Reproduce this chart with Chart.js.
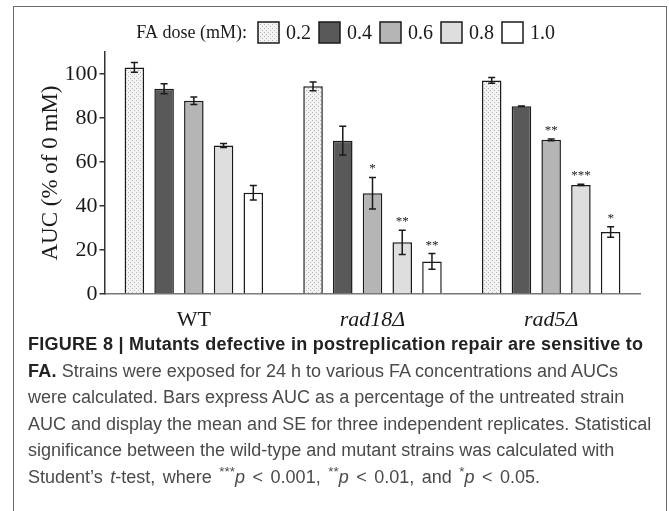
<!DOCTYPE html>
<html>
<head>
<meta charset="utf-8">
<script src="https://cdn.jsdelivr.net/npm/chart.js@4.4.0/dist/chart.umd.min.js"></script>
<style>
  html, body { margin: 0; padding: 0; background: #fff; }
  body { width: 669px; height: 511px; position: relative; overflow: hidden; }
  #frame { position: absolute; left: 13px; top: 6px; width: 654px; height: 520px;
           border: 1.5px solid #6b6b6b; box-sizing: border-box; }
  #wrap { position: absolute; left: 0; top: 0; width: 669px; height: 335px; }
  #caption { position: absolute; left: 28px; top: 331px; white-space: nowrap;
             font-family: "Liberation Sans", Arial, sans-serif; font-size: 18px;
             line-height: 26.6px; color: #4a4a4a; }
  #caption b { color: #222; letter-spacing: 0.27px; }
  #caption sup { font-size: 0.75em; line-height: 0; vertical-align: 0.5em; }
  #caption .last { word-spacing: 2.5px; }
</style>
</head>
<body>
<div id="frame"></div>
<div id="wrap"><canvas id="aucChart"></canvas></div>
<div id="caption">
  <b>FIGURE 8 | Mutants defective in postreplication repair are sensitive to</b><br>
  <b>FA.</b> Strains were exposed for 24 h to various FA concentrations and AUCs<br>
  were calculated. Bars express AUC as a percentage of the untreated strain<br>
  AUC and display the mean and SE for three independent replicates. Statistical<br>
  significance between the wild-type and mutant strains was calculated with<br>
  <span class="last">Student’s <i>t</i>-test, where <sup>***</sup><i>p</i> &lt; 0.001, <sup>**</sup><i>p</i> &lt; 0.01, and <sup>*</sup><i>p</i> &lt; 0.05.</span>
</div>
<script>
// ---------- Données ----------
const strains = ["WT", "rad18Δ", "rad5Δ"];
const doses = ["0.2", "0.4", "0.6", "0.8", "1.0"];
const yTicks = [0, 20, 40, 60, 80, 100];

// AUC moyenne (% de 0 mM), une valeur par souche
const auc02 = [103.0, 94.4, 97.1];
const auc04 = [93.3, 69.7, 85.3];
const auc06 = [87.8, 45.8, 70.1];
const auc08 = [67.5, 23.5, 49.6];
const auc10 = [46.0, 14.8, 28.2];

// erreur standard
const se02 = [2.2, 2.0, 1.3];
const se04 = [2.3, 6.5, 0.1];
const se06 = [1.7, 7.2, 0.4];
const se08 = [0.9, 5.5, 0.3];
const se10 = [3.3, 3.6, 2.4];

// significativité vs WT
const sig02 = ["", "", ""];
const sig04 = ["", "", ""];
const sig06 = ["", "*", "**"];
const sig08 = ["", "**", "***"];
const sig10 = ["", "**", "*"];

// ---------- Motif pointillé pour 0.2 mM ----------
function stipple() {
  const c = document.createElement("canvas");
  c.width = 4; c.height = 4;
  const g = c.getContext("2d");
  g.fillStyle = "#f3f3f3";
  g.fillRect(0, 0, 4, 4);
  g.fillStyle = "#b4b4b4";
  g.fillRect(0, 0, 1, 1);
  g.fillRect(2, 2, 1, 1);
  return g.createPattern(c, "repeat");
}

const serif = "'Liberation Serif', 'Times New Roman', serif";
const ink = "#1a1a1a";
const fills = [stipple(), "#595959", "#b5b5b5", "#dedede", "#ffffff"];
const means = [auc02, auc04, auc06, auc08, auc10];
const errs = [se02, se04, se06, se08, se10];
const sigs = [sig02, sig04, sig06, sig08, sig10];

// ---------- Barres d'erreur + étoiles ----------
const errorBars = {
  id: "errorBars",
  afterDatasetsDraw(chart) {
    const { ctx, scales: { y } } = chart;
    ctx.save();
    chart.data.datasets.forEach((ds, i) => {
      chart.getDatasetMeta(i).data.forEach((bar, j) => {
        const top = y.getPixelForValue(ds.data[j] + ds.se[j]);
        const bot = y.getPixelForValue(ds.data[j] - ds.se[j]);
        ctx.strokeStyle = ink;
        ctx.lineWidth = 1.5;
        ctx.beginPath();
        ctx.moveTo(bar.x, top); ctx.lineTo(bar.x, bot);
        ctx.moveTo(bar.x - 3.5, top); ctx.lineTo(bar.x + 3.5, top);
        ctx.moveTo(bar.x - 3.5, bot); ctx.lineTo(bar.x + 3.5, bot);
        ctx.stroke();
        if (ds.sig[j]) {
          ctx.fillStyle = ink;
          ctx.font = "13px " + serif;
          ctx.textAlign = "center";
          ctx.textBaseline = "alphabetic";
          ctx.fillText(ds.sig[j], bar.x, top - 5);
        }
      });
    });
    ctx.restore();
  }
};

// ---------- Légende ----------
const doseLegend = {
  id: "doseLegend",
  afterDraw(chart) {
    const ctx = chart.ctx;
    const cy = 32.5;
    ctx.save();
    ctx.textBaseline = "middle";
    ctx.fillStyle = ink;
    ctx.textAlign = "right";
    ctx.font = "18px " + serif;
    ctx.fillText("FA dose (mM):", 247, cy + 1);
    ctx.textAlign = "left";
    ctx.font = "20px " + serif;
    let x = 258;
    chart.data.datasets.forEach((ds) => {
      ctx.fillStyle = ds.backgroundColor;
      ctx.fillRect(x, cy - 10.5, 21, 21);
      ctx.strokeStyle = ink;
      ctx.lineWidth = 1.5;
      ctx.strokeRect(x, cy - 10.5, 21, 21);
      ctx.fillStyle = ink;
      ctx.fillText(ds.label, x + 28, cy + 1);
      x += 28 + ctx.measureText(ds.label).width + 8;
    });
    ctx.restore();
  }
};

new Chart(document.getElementById("aucChart"), {
  type: "bar",
  data: {
    labels: strains,
    datasets: doses.map((d, i) => ({
      label: d,
      data: means[i],
      se: errs[i],
      sig: sigs[i],
      backgroundColor: fills[i],
      borderColor: ink,
      borderWidth: 1.5,
      categoryPercentage: 0.832,
      barPercentage: 0.657,
    })),
  },
  options: {
    responsive: true,
    maintainAspectRatio: false,
    animation: false,
    layout: { padding: { top: 52, right: 28.5, left: 0, bottom: 0 } },
    plugins: { legend: { display: false }, tooltip: { enabled: false } },
    scales: {
      x: {
        afterFit: (s) => { s.height = 41; },
        border: { color: "#777", width: 1.5 },
        grid: { display: false },
        ticks: {
          color: ink,
          padding: 5,
          font: (c) => ({ family: serif, size: 22, style: c.index > 0 ? "italic" : "normal" }),
        },
      },
      y: {
        min: 0,
        max: 110,
        afterBuildTicks: (s) => { s.ticks = yTicks.map((v) => ({ value: v })); },
        afterFit: (s) => { s.width = 104.5; },
        border: { color: "#333", width: 1.5 },
        grid: { drawOnChartArea: false, tickLength: 5, color: "#333", lineWidth: 1.5 },
        ticks: { color: ink, padding: 2, font: { family: serif, size: 22 } },
        title: {
          display: true,
          text: "AUC (% of 0 mM)",
          color: ink,
          padding: { top: 37, bottom: 0 },
          font: { family: serif, size: 23 },
        },
      },
    },
  },
  plugins: [errorBars, doseLegend],
});
</script>
</body>
</html>
